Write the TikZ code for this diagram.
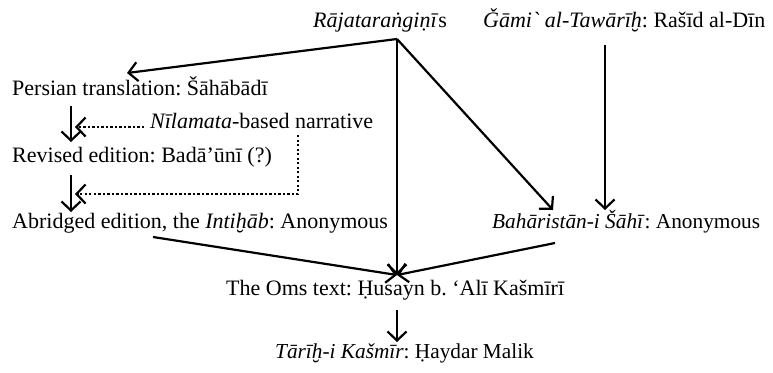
\documentclass[tikz,border=0pt]{standalone}
\usepackage{fontspec}
\setmainfont{Liberation Serif}[Ligatures=TeXOff]
\usetikzlibrary{arrows.meta}
\frenchspacing
\tikzset{
  lbl/.style={anchor=base west, inner sep=0pt, font=\fontsize{22bp}{26bp}\selectfont},
  lblnarrow/.style={lbl, font=\fontsize{21.3bp}{26bp}\selectfont},
  conn/.style={line width=2.2bp, -{Straight Barb[length=9bp,width=19bp,line width=2.2bp]}},
  dotconn/.style={conn, dash pattern=on 2.3bp off 2.2bp},
}
\begin{document}
\begin{tikzpicture}[x=1bp,y=-1bp]
\useasboundingbox (0,0) rectangle (773,372);
\node[lbl] (raj) at (313,27) {\textit{Rājataraṅgiṇī}s};
\node[lbl] (gam) at (483,27) {\textit{Ǧāmi` al-Tawārīḫ}: Rašīd al-Dīn};
\node[lbl] (per) at (12,95) {Persian translation: Šāhābādī};
\node[lbl] (nil) at (150,128) {\textit{Nīlamata}-based narrative};
\node[lbl] (rev) at (12,162) {Revised edition: Badā’ūnī (?)};
\node[lbl] (abr) at (12,228) {Abridged edition, the \textit{Intiḫāb}: Anonymous};
\node[lblnarrow] (bah) at (492,228) {\textit{Bahāristān-i Šāhī}: Anonymous};
\node[lbl] (oms) at (226,295) {The Oms text: Ḥusayn b. ‘Alī Kašmīrī};
\node[lblnarrow] (tar) at (275,358) {\textit{Tārīḫ-i Kašmīr}: Ḥaydar Malik};

\coordinate (apex) at (397,39);
\coordinate (pertip) at (127,73);
\coordinate (join) at (397,275);
\coordinate (bahtip) at (553,210);
\coordinate (gtop) at (605,45);
\coordinate (gtip) at (605,210);
\coordinate (abrs) at (153,237);
\coordinate (bahs) at (555,243);
\coordinate (omss) at (397,310);
\coordinate (tartip) at (397,342);
\coordinate (pers) at (71,106);
\coordinate (revtip) at (71,142);
\coordinate (revs) at (71,175);
\coordinate (abrtip) at (71,212);
\coordinate (nils) at (144,127);
\coordinate (niltip) at (75,127);
\coordinate (nilb) at (298,135);
\coordinate (nilc) at (298,194);
\coordinate (niltip2) at (75,194);

\draw[conn] (apex) -- (pertip);
\draw[conn] (apex) -- (join);
\draw[conn] (apex) -- (bahtip);
\draw[conn] (gtop) -- (gtip);
\draw[conn] (abrs) -- (join);
\draw[conn] (bahs) -- (join);
\draw[conn] (omss) -- (tartip);
\draw[conn] (pers) -- (revtip);
\draw[conn] (revs) -- (abrtip);
\draw[dotconn] (nils) -- (niltip);
\draw[dotconn] (nilb) -- (nilc) -- (niltip2);
\end{tikzpicture}
\end{document}
